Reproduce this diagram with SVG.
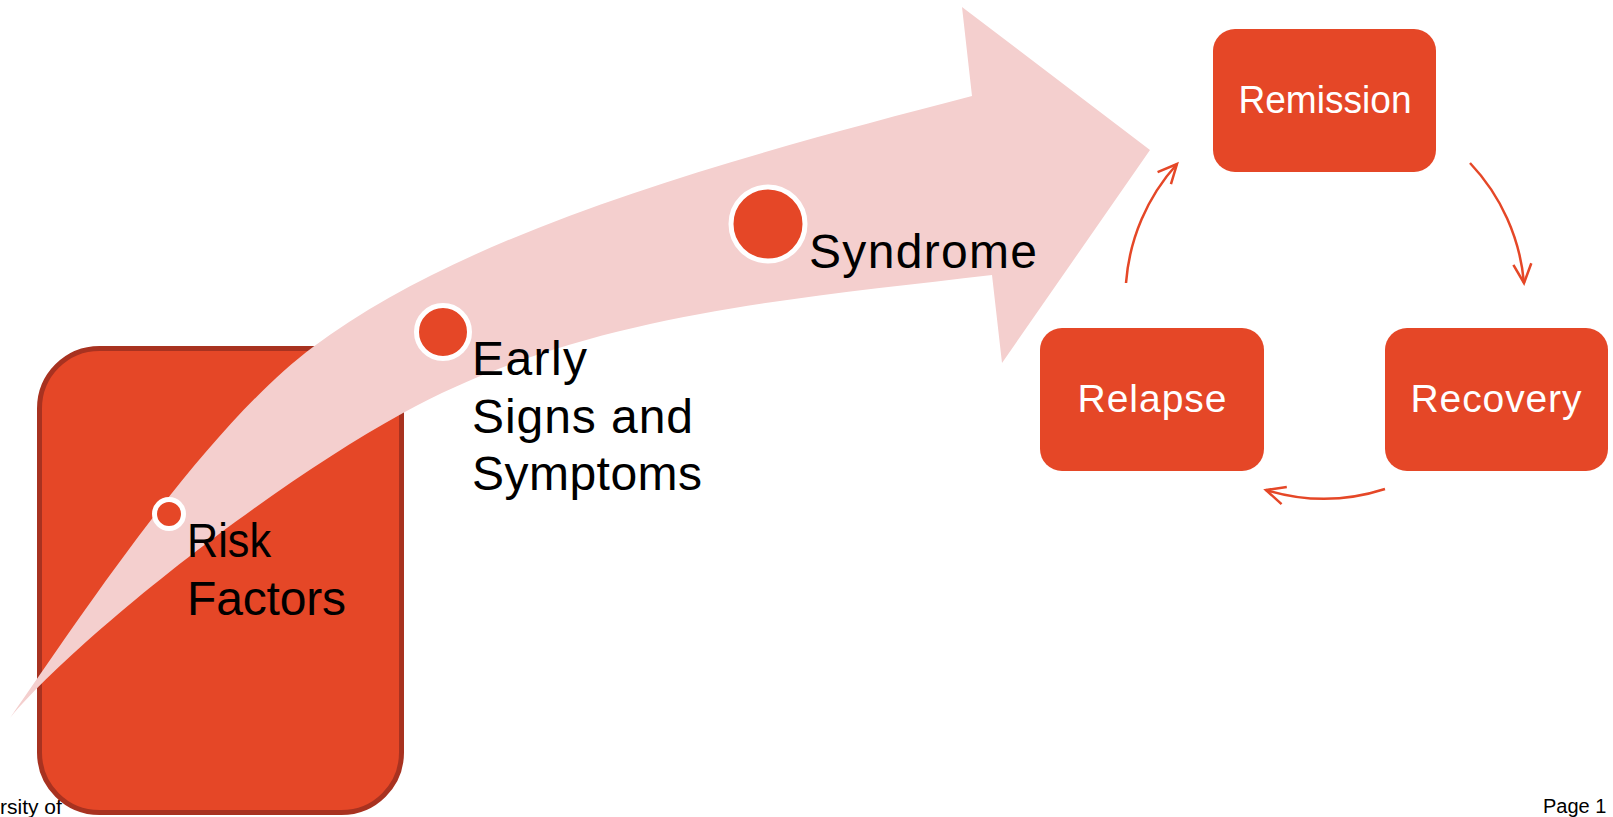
<svg xmlns="http://www.w3.org/2000/svg" width="1613" height="817" viewBox="0 0 1613 817">
<defs>
<style>
.lbl{font-family:"Liberation Sans",Arial,sans-serif;font-size:48px;fill:#000}
.box{fill:#E54727}
.btxt{font-family:"Liberation Sans",Arial,sans-serif;font-size:39px;fill:#fff;text-anchor:middle}
.dot{fill:#E54727;stroke:#fff;stroke-width:5}
.conn{fill:none;stroke:#E54727;stroke-width:2.5;marker-end:url(#arr)}
.foot{font-family:"Liberation Sans",Arial,sans-serif;font-size:20px;fill:#000}
</style>
<marker id="arr" markerUnits="userSpaceOnUse" markerWidth="40" markerHeight="40" refX="0" refY="0" orient="auto" overflow="visible">
<path d="M -19 -9 L 0 0 L -19 9" fill="none" stroke="#E54727" stroke-width="2.5"/>
</marker>
</defs>
<rect width="1613" height="817" fill="#fff"/>
<text class="foot" x="0" y="814" style="font-size:21px">rsity of</text>
<text class="foot" x="1543" y="813">Page 1</text>
<g id="risk-box">
<rect x="39.5" y="348.5" width="362" height="464" rx="60" ry="60" fill="#E54727" stroke="#A83220" stroke-width="5"/>
</g>
<g id="big-arrow">
<path d="M 10 718 C 75 625 203 429 313 347 C 473 227 742 156 972 96 L 962 7 L 1150 150 L 1002 363 L 992 275 C 792 299 583 314 403 413 C 263 490 75 640 10 718 Z" fill="#F4CFCE"/>
</g>
<g id="risk-factors">
<circle class="dot" cx="169" cy="514" r="14.5"/>
<text class="lbl" x="187" y="557" textLength="84" lengthAdjust="spacingAndGlyphs">Risk</text>
<text class="lbl" x="187" y="615" textLength="159">Factors</text>
</g>
<g id="early-signs">
<circle class="dot" cx="443" cy="332" r="26.5"/>
<text class="lbl" x="472" y="375" textLength="115">Early</text>
<text class="lbl" x="472" y="433" textLength="221">Signs and</text>
<text class="lbl" x="472" y="490" textLength="230">Symptoms</text>
</g>
<g id="syndrome">
<circle class="dot" cx="768" cy="224" r="37"/>
<text class="lbl" x="809" y="268" textLength="228">Syndrome</text>
</g>
<g id="remission">
<rect class="box" x="1213" y="29" width="223" height="143" rx="22" ry="22"/>
<text class="btxt" x="1325" y="113" textLength="173" lengthAdjust="spacingAndGlyphs">Remission</text>
</g>
<g id="relapse">
<rect class="box" x="1040" y="328" width="224" height="143" rx="22" ry="22"/>
<text class="btxt" x="1152" y="412" textLength="149">Relapse</text>
</g>
<g id="recovery">
<rect class="box" x="1385" y="328" width="223" height="143" rx="22" ry="22"/>
<text class="btxt" x="1496" y="412" textLength="171">Recovery</text>
</g>
<g id="connectors">
<path class="conn" d="M 1470 163 A 200 200 0 0 1 1524 283"/>
<path class="conn" d="M 1385 489 A 199 199 0 0 1 1266 490"/>
<path class="conn" d="M 1126 283 A 200 200 0 0 1 1177 164"/>
</g>
</svg>
